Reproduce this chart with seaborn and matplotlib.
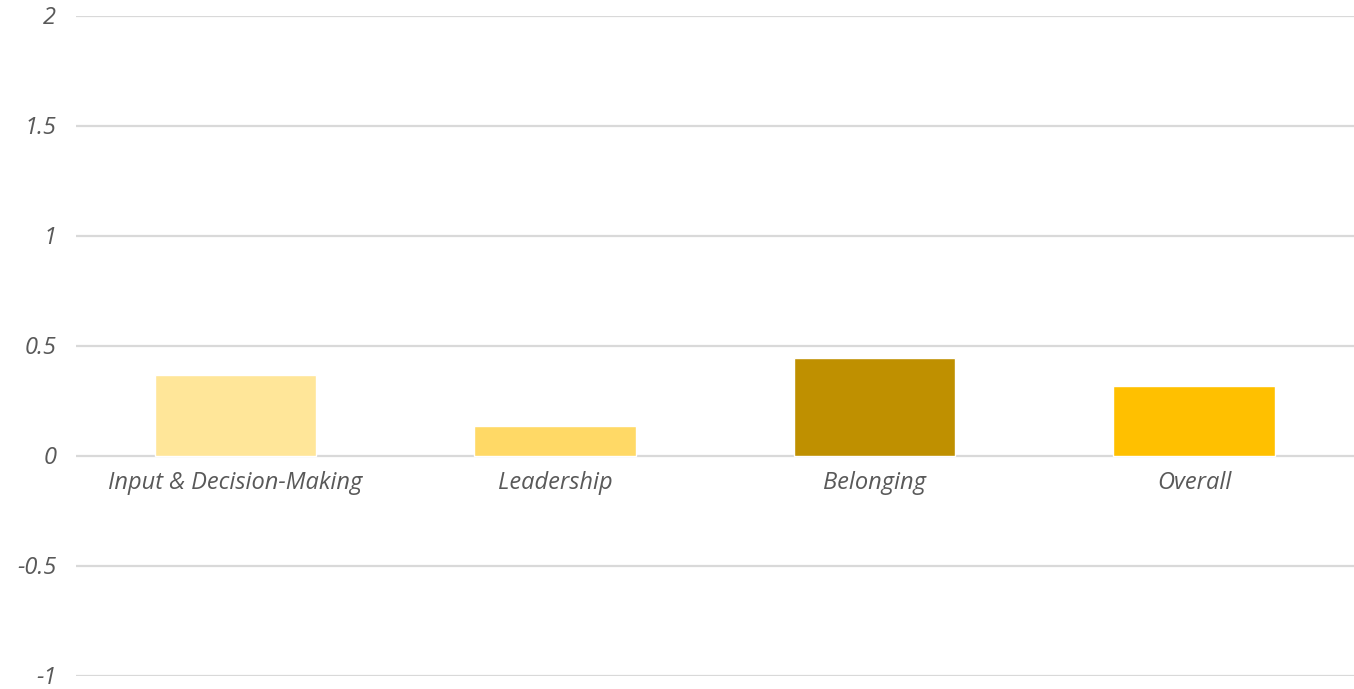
import matplotlib
matplotlib.use("Agg")
import matplotlib.pyplot as plt
import seaborn as sns
import pandas as pd

categories = ["Input & Decision-Making", "Leadership", "Belonging", "Overall"]
values = [0.364, 0.135, 0.443, 0.314]
colors = ["#FFE699", "#FFD966", "#BF9000", "#FFC000"]
y_ticks = [-1, -0.5, 0, 0.5, 1, 1.5, 2]
y_tick_labels = ["-1", "-0.5", "0", "0.5", "1", "1.5", "2"]

sns.set_theme(style="white")
plt.rcParams["font.family"] = ["Open Sans", "DejaVu Sans"]

df = pd.DataFrame({"category": categories, "value": values})

W, H = 1354, 689
fig = plt.figure(figsize=(W / 100, H / 100), dpi=100)
ax = fig.add_axes([75.75 / W, 1 - 675.5 / H, (1353.75 - 75.75) / W, (675.5 - 15.5) / H])

sns.barplot(data=df, x="category", y="value", hue="category", palette=colors,
            width=0.507, saturation=1, legend=False, ax=ax, zorder=3)

ax.set_ylim(-1, 2)
ax.set_xlim(-0.5, 3.5)
ax.set_yticks(y_ticks)
ax.set_yticklabels(y_tick_labels, fontsize=17, style="italic", color="#595959",
                   fontweight="medium")
ax.tick_params(axis="y", length=0, pad=14)
ax.set_xticks([])
ax.set_xlabel("")
ax.set_ylabel("")
ax.yaxis.grid(True, color="#D9D9D9", linewidth=1.6, zorder=0)
for s in ax.spines.values():
    s.set_visible(False)

for i, cat in enumerate(categories):
    ax.annotate(cat, xy=(i, 0), xytext=(0, -11), textcoords="offset points",
                ha="center", va="top", fontsize=17, style="italic", color="#595959",
                fontweight="medium")

fig.savefig("out.png", dpi=100, facecolor="white")
